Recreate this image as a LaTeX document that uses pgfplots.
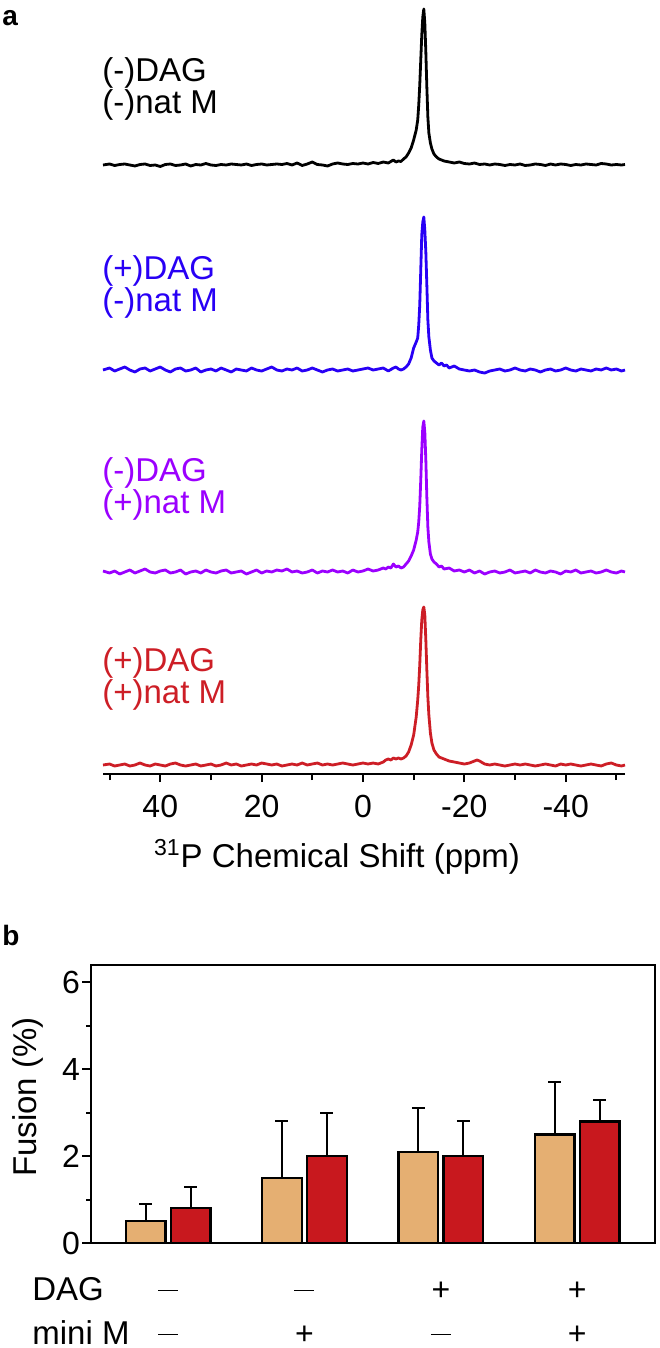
\documentclass[border=0pt]{standalone}
\usepackage{pgfplots}
\pgfplotsset{compat=1.18}
\usepackage{fontspec}
\setmainfont{Liberation Sans}
\definecolor{cblue}{RGB}{40,0,245}
\definecolor{cpurple}{RGB}{155,0,255}
\definecolor{cred}{RGB}{205,30,38}
\definecolor{btan}{RGB}{229,175,114}
\definecolor{bred}{RGB}{200,24,30}
\newcommand{\dash}{\rule[0.28em]{10pt}{0.6pt}}
\begin{document}
\begin{tikzpicture}
\useasboundingbox (0,0) rectangle (329.5pt,-674pt);
\begin{axis}[at={(51.5pt,-387pt)}, anchor=south west, scale only axis,
  width=261pt, height=387pt,
  xmin=-51.7, xmax=51.3, x dir=reverse, ymin=0, ymax=774,
  axis x line=bottom, hide y axis,
  axis line style={-}, x axis line style={-, line width=1pt},
  xtick={40,20,0,-20,-40}, xticklabels={40,20,0,-20,-40},
  minor xtick={50,30,10,-10,-30,-50},
  tick align=outside, major tick length=4pt, minor tick length=3pt,
  every tick/.append style={black, line width=1pt},
  every minor tick/.append style={black, line width=1pt},
  xticklabel style={font=\fontsize{16}{19}\selectfont, yshift=-3pt},
  /pgf/number format/assume math mode=true,
  clip=false]
\addplot[black, line width=1.4pt, line join=round] table[row sep=\\, x=x, y expr=\thisrow{y}+609] {
x y\\
51.3 0\\ 50 1\\ 49 -0.5\\ 48 0.5\\ 47 1\\ 46 0\\ 45 -1\\ 44 0.5\\ 43 1\\ 42 -0.5\\ 41 0\\ 40 -1.5\\ 39 0.5\\ 38 1\\ 37 -0.5\\ 36 0\\ 35 1\\ 34 -1\\ 33 0.5\\ 32 0\\ 31 1.5\\ 30 0\\ 29 -0.5\\ 28 0.5\\ 27 0\\ 26 1\\ 25 0.5\\ 24 0\\ 23 1\\ 22 -0.5\\ 21 0.5\\ 20 1\\ 19 0\\ 18 0.5\\ 17 1\\ 16 0.5\\ 15 1.5\\ 14 0\\ 13 2\\ 12 -0.5\\ 11 1\\ 10 3\\ 9 0.5\\ 8 0\\ 7 -1\\ 6 1\\ 5 2\\ 4 1\\ 3 0.5\\ 2 1.5\\ 1 1\\ 0 2\\ -1 1\\ -2 2.5\\ -3 1.5\\ -4 3\\ -5 2\\ -6 5\\ -6.5 3\\ -7 4\\ -7.5 3.5\\ -8 6\\ -8.5 8\\ -9 12\\ -9.5 17\\ -10 25\\ -10.5 35\\ -10.8 45\\ -11 60\\ -11.2 80\\ -11.4 105\\ -11.6 130\\ -11.8 148\\ -12 156\\ -12.2 142\\ -12.4 113\\ -12.6 78\\ -12.8 48\\ -13 32\\ -13.3 22\\ -13.6 16\\ -14 11\\ -14.5 8\\ -15 6\\ -15.5 5\\ -16 4\\ -17 3\\ -18 2\\ -19 3\\ -20 1.5\\ -21 1\\ -22 2\\ -23 0.5\\ -24 1\\ -25 0\\ -26 1\\ -27 0.5\\ -28 -0.5\\ -29 0.5\\ -30 0\\ -31 1\\ -32 -0.5\\ -33 0\\ -34 1\\ -35 0.5\\ -36 -0.5\\ -37 1\\ -38 0\\ -39 1\\ -40 0.5\\ -41 -0.5\\ -42 0.5\\ -43 0\\ -44 1\\ -45 0.5\\ -46 0\\ -47 1.5\\ -48 1\\ -49 0\\ -50 0.5\\ -51 0\\ -51.7 0.5\\
};
\addplot[cblue, line width=1.4pt, line join=round] table[row sep=\\, x=x, y expr=\thisrow{y}+404] {
x y\\
51.3 0\\ 50 2\\ 49 -1\\ 48 1\\ 47 3\\ 46 0\\ 45 -2\\ 44 1\\ 43 2\\ 42 -1\\ 41 1\\ 40 3\\ 39 0\\ 38 -2\\ 37 1\\ 36 2\\ 35 -1\\ 34 0\\ 33 2\\ 32 -2\\ 31 0\\ 30 1\\ 29 -1\\ 28 2\\ 27 0\\ 26 -2\\ 25 1\\ 24 0\\ 23 -1\\ 22 2\\ 21 0\\ 20 -1\\ 19 1\\ 18 3\\ 17 0\\ 16 -1\\ 15 1\\ 14 0\\ 13 2\\ 12 -1\\ 11 0\\ 10 2\\ 9 0\\ 8 -2\\ 7 0\\ 6 1\\ 5 -1\\ 4 0\\ 3 1\\ 2 -1\\ 1 0\\ 0 1\\ -1 2\\ -2 0\\ -3 1\\ -4 2\\ -5 -1\\ -6 2\\ -6.5 3\\ -7 1\\ -7.5 0\\ -8 1\\ -8.5 3\\ -9 6\\ -9.5 12\\ -10 22\\ -10.5 28\\ -10.8 32\\ -11 45\\ -11.2 65\\ -11.4 100\\ -11.6 135\\ -11.8 148\\ -12 153\\ -12.2 140\\ -12.4 118\\ -12.6 85\\ -12.8 50\\ -13 33\\ -13.3 20\\ -13.6 12\\ -14 9\\ -14.5 7\\ -15 5\\ -15.5 7\\ -16 4\\ -16.5 5\\ -17 2\\ -18 4\\ -19 1\\ -20 0\\ -21 -1\\ -22 0\\ -23 -2\\ -24 -3\\ -25 -1\\ -26 0\\ -27 1\\ -28 -1\\ -29 0\\ -30 2\\ -31 0\\ -32 -1\\ -33 1\\ -34 0\\ -35 -2\\ -36 0\\ -37 1\\ -38 -1\\ -39 0\\ -40 2\\ -41 0\\ -42 -1\\ -43 1\\ -44 0\\ -45 -1\\ -46 1\\ -47 0\\ -48 2\\ -49 0\\ -50 1\\ -51 -1\\ -51.7 0\\
};
\addplot[cpurple, line width=1.4pt, line join=round] table[row sep=\\, x=x, y expr=\thisrow{y}+202] {
x y\\
51.3 1\\ 50 -1\\ 49 1\\ 48 -2\\ 47 0\\ 46 2\\ 45 -1\\ 44 1\\ 43 3\\ 42 0\\ 41 -1\\ 40 1\\ 39 2\\ 38 -1\\ 37 0\\ 36 2\\ 35 -2\\ 34 0\\ 33 1\\ 32 -1\\ 31 2\\ 30 0\\ 29 -1\\ 28 1\\ 27 2\\ 26 -1\\ 25 0\\ 24 1\\ 23 -2\\ 22 0\\ 21 2\\ 20 -1\\ 19 1\\ 18 0\\ 17 2\\ 16 1\\ 15 3\\ 14 0\\ 13 1\\ 12 -1\\ 11 0\\ 10 2\\ 9 -1\\ 8 1\\ 7 0\\ 6 2\\ 5 0\\ 4 1\\ 3 -1\\ 2 2\\ 1 0\\ 0 1\\ -1 3\\ -2 1\\ -3 2\\ -4 4\\ -4.5 3\\ -5 5\\ -5.5 4\\ -6 8\\ -6.5 5\\ -7 6\\ -7.5 4\\ -8 5\\ -8.5 8\\ -9 11\\ -9.5 16\\ -10 22\\ -10.5 32\\ -10.8 40\\ -11 50\\ -11.2 66\\ -11.4 92\\ -11.6 122\\ -11.8 145\\ -12 151\\ -12.2 140\\ -12.4 112\\ -12.6 75\\ -12.8 45\\ -13 30\\ -13.3 18\\ -13.6 13\\ -14 10\\ -14.5 8\\ -15 5\\ -15.5 6\\ -16 3\\ -17 4\\ -18 1\\ -19 2\\ -20 0\\ -21 2\\ -22 -1\\ -23 1\\ -24 -2\\ -25 0\\ -26 1\\ -27 -1\\ -28 0\\ -29 2\\ -30 -1\\ -31 0\\ -32 1\\ -33 -1\\ -34 2\\ -35 0\\ -36 -1\\ -37 1\\ -38 0\\ -39 -2\\ -40 1\\ -41 0\\ -42 2\\ -43 -1\\ -44 0\\ -45 1\\ -46 -1\\ -47 0\\ -48 2\\ -49 0\\ -50 -1\\ -51 1\\ -51.7 0\\
};
\addplot[cred, line width=1.4pt, line join=round] table[row sep=\\, x=x, y expr=\thisrow{y}+9] {
x y\\
51.3 0\\ 50 1\\ 49 -1\\ 48 0\\ 47 1\\ 46 -1\\ 45 0\\ 44 2\\ 43 0\\ 42 -1\\ 41 1\\ 40 0\\ 39 -1\\ 38 1\\ 37 2\\ 36 0\\ 35 -1\\ 34 0\\ 33 1\\ 32 -1\\ 31 0\\ 30 1\\ 29 -1\\ 28 0\\ 27 2\\ 26 0\\ 25 1\\ 24 -1\\ 23 0\\ 22 1\\ 21 0\\ 20 2\\ 19 1\\ 18 0\\ 17 1\\ 16 -1\\ 15 0\\ 14 1\\ 13 0\\ 12 2\\ 11 0\\ 10 1\\ 9 2\\ 8 0\\ 7 1\\ 6 0\\ 5 1\\ 4 2\\ 3 1\\ 2 0\\ 1 1\\ 0 2\\ -1 1\\ -2 2\\ -3 1\\ -3.5 2\\ -4 3\\ -4.5 5\\ -5 6\\ -5.5 5\\ -6 7\\ -6.5 6\\ -7 7\\ -7.5 6\\ -8 7\\ -8.5 9\\ -9 13\\ -9.5 20\\ -10 30\\ -10.5 48\\ -10.8 65\\ -11 80\\ -11.2 100\\ -11.4 125\\ -11.6 145\\ -11.8 155\\ -12 158\\ -12.2 150\\ -12.4 125\\ -12.6 95\\ -12.8 68\\ -13 50\\ -13.3 32\\ -13.6 22\\ -14 15\\ -14.5 11\\ -15 8\\ -15.5 7\\ -16 6\\ -16.5 5\\ -17 4\\ -18 3\\ -19 2\\ -20 1\\ -21 2\\ -22 4\\ -22.5 5\\ -23 4\\ -24 1\\ -25 0\\ -26 1\\ -27 0\\ -28 -1\\ -29 0\\ -30 1\\ -31 0\\ -32 1\\ -33 0\\ -34 -1\\ -35 0\\ -36 1\\ -37 0\\ -38 -1\\ -39 1\\ -40 0\\ -41 1\\ -42 0\\ -43 -1\\ -44 0\\ -45 1\\ -46 0\\ -47 -1\\ -48 1\\ -49 2\\ -50 0\\ -51 -1\\ -51.7 0\\
};
\end{axis}

% panel a labels
\node[anchor=base west, inner sep=0, font=\bfseries\fontsize{14}{17}\selectfont] at (1pt,-13pt) {a};
\begin{scope}[every node/.style={anchor=base west, inner sep=0, font=\fontsize{16.5}{19}\selectfont}]
\node[black] at (51pt,-41pt) {(-)DAG};
\node[black] at (51pt,-57pt) {(-)nat M};
\node[cblue] at (51pt,-139.5pt) {(+)DAG};
\node[cblue] at (51pt,-155.5pt) {(-)nat M};
\node[cpurple] at (51pt,-240.5pt) {(-)DAG};
\node[cpurple] at (51pt,-256.5pt) {(+)nat M};
\node[cred] at (51pt,-335.5pt) {(+)DAG};
\node[cred] at (51pt,-351.5pt) {(+)nat M};
\end{scope}
\node[font=\fontsize{16.5}{20}\selectfont] at (168.5pt,-428.5pt) {\textsuperscript{31}P Chemical Shift (ppm)};

% panel b
\node[anchor=base west, inner sep=0, font=\bfseries\fontsize{14}{17}\selectfont] at (1pt,-472.5pt) {b};
\begin{axis}[at={(45.5pt,-621.5pt)}, anchor=south west, scale only axis,
  width=282pt, height=139pt,
  xmin=0.435, xmax=4.57, ymin=0, ymax=6.4,
  ybar, bar width=19.75pt,
  xtick=\empty, ytick={0,2,4,6}, minor ytick={1,3,5}, ytick pos=left,
  tick align=outside, major tick length=4.5pt, minor tick length=2.5pt,
  every tick/.append style={black, line width=1pt},
  every minor tick/.append style={black, line width=1pt},
  axis line style={line width=1pt},
  yticklabel style={font=\fontsize{16}{19}\selectfont, xshift=2.5pt},
  /pgf/number format/assume math mode=true,
  clip=false]
\addplot[bar shift=-11.25pt, fill=btan, draw=black, line width=1.2pt,
  error bars/.cd, y dir=plus, y explicit,
  error bar style={line width=1pt, black},
  error mark options={rotate=90, mark size=3.25pt, line width=1pt, black}]
  coordinates {(1,0.5) +- (0,0.4) (2,1.5) +- (0,1.3) (3,2.1) +- (0,1.0) (4,2.5) +- (0,1.2)};
\addplot[bar shift=11.25pt, fill=bred, draw=black, line width=1.2pt,
  error bars/.cd, y dir=plus, y explicit,
  error bar style={line width=1pt, black},
  error mark options={rotate=90, mark size=3.25pt, line width=1pt, black}]
  coordinates {(1,0.8) +- (0,0.5) (2,2.0) +- (0,1.0) (3,2.0) +- (0,0.8) (4,2.8) +- (0,0.5)};
\begin{scope}[every node/.style={anchor=base, inner sep=0, font=\fontsize{16}{19}\selectfont}]
\node at (axis cs:1,-1.312) {\dash};
\node at (axis cs:2,-1.312) {\dash};
\node at (axis cs:3,-1.312) {+};
\node at (axis cs:4,-1.312) {+};
\node at (axis cs:1,-2.33) {\dash};
\node at (axis cs:2,-2.33) {+};
\node at (axis cs:3,-2.33) {\dash};
\node at (axis cs:4,-2.33) {+};
\end{scope}
\end{axis}
\node[rotate=90, font=\fontsize{16.5}{20}\selectfont] at (14pt,-548.5pt) {Fusion (\%)};
\node[anchor=base west, inner sep=0, font=\fontsize{16.5}{19}\selectfont] at (16pt,-650pt) {DAG};
\node[anchor=base west, inner sep=0, font=\fontsize{16.5}{19}\selectfont] at (16pt,-672pt) {mini M};
\end{tikzpicture}
\end{document}
